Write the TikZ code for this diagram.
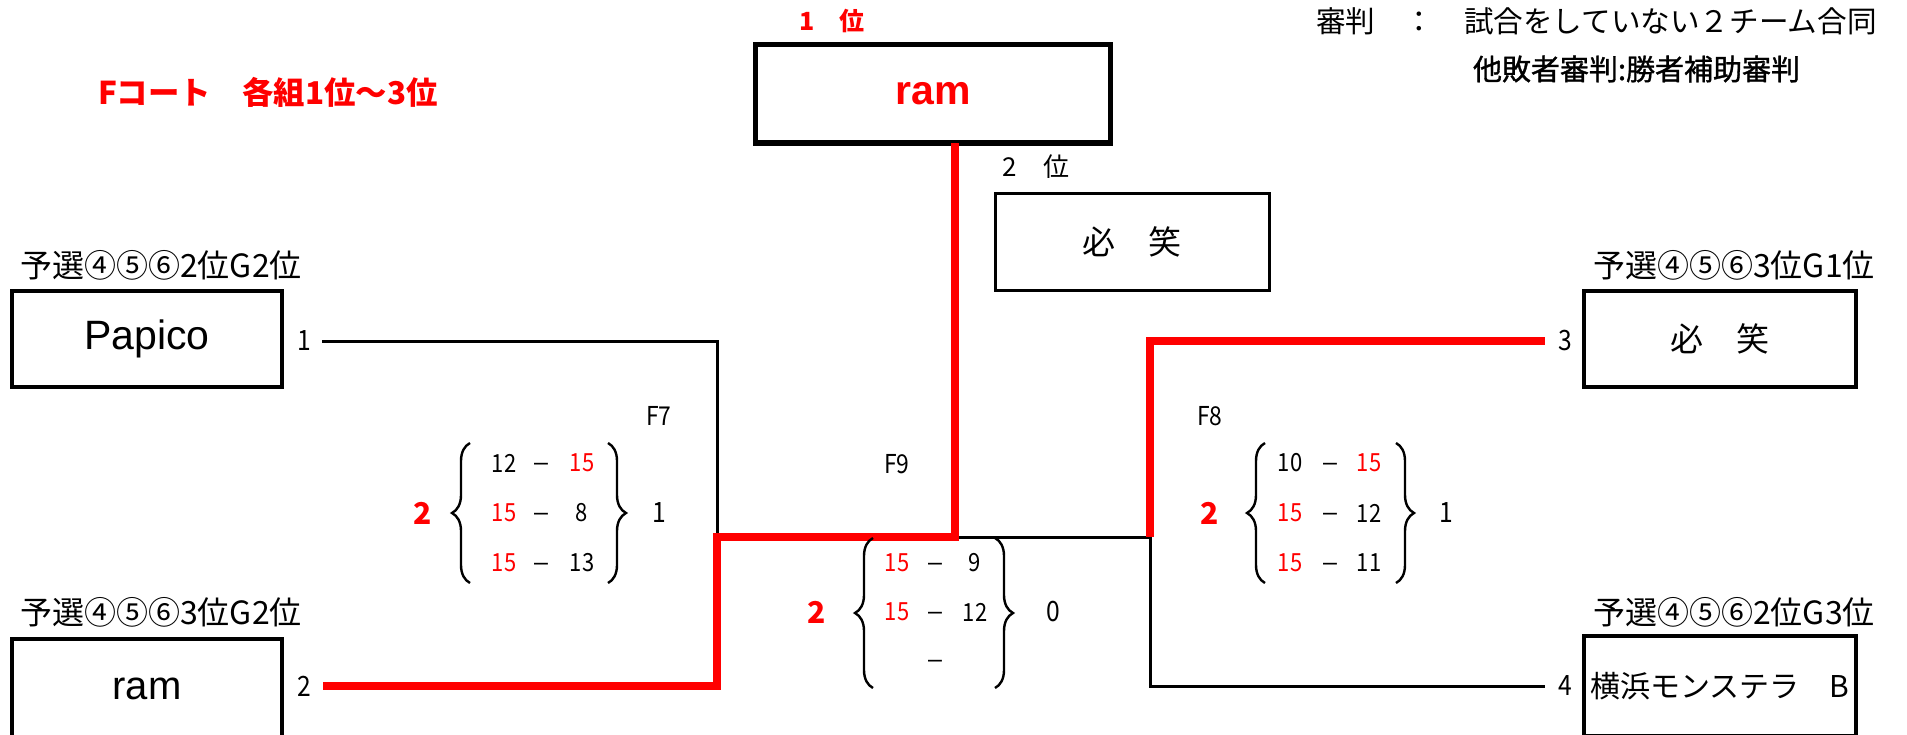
\documentclass[tikz,border=0pt]{standalone}
\usepackage{fontspec}
\setmainfont{Noto Sans CJK JP}
\newfontfamily\latf{Liberation Sans}
\newfontfamily\cond[FakeStretch=0.88]{Noto Sans CJK JP}
\newfontfamily\semib[FakeBold=1.2]{Noto Sans CJK JP}
\usetikzlibrary{decorations.pathreplacing}
\definecolor{rd}{RGB}{255,0,0}
\newcommand\setfs[1]{\fontsize{#1}{#1}\selectfont}
\newcommand\dsh{{\latf –}}
\begin{document}
\begin{tikzpicture}[x=0.5pt,y=-0.5pt,
  every node/.style={inner sep=0pt, outer sep=0pt},
  tbox/.style={draw, line width=1.75pt, minimum width=136pt, minimum height=48pt},
  lbl/.style={font=\setfs{16pt}},
  num/.style={font=\cond\setfs{14pt}},
  fno/.style={font=\cond\setfs{13pt}},
  sc/.style={font=\cond\setfs{12.5pt}},
  scr/.style={font=\cond\setfs{12.5pt}, text=rd},
  dashn/.style={font=\setfs{12.5pt}, yshift=-2pt},
  bigr/.style={font=\setfs{15pt}\bfseries, text=rd},
  blk/.style={line width=1.5pt, line join=miter},
  redl/.style={line width=3.6pt, draw=rd, line join=miter},
  brc/.style={line width=1.2pt, decorate, decoration={brace, amplitude=9pt}},
]
\useasboundingbox (0,0) rectangle (1907,734);

% header texts
\node[font=\setfs{15.7pt}\bfseries, text=rd, anchor=west] (title) at (98,92) {Fコート　各組1位～3位};
\node[font=\setfs{14.8pt}, anchor=west] (ref1) at (1316,21) {審判　：　試合をしていない２チーム合同};
\node[font=\semib\setfs{14.5pt}, anchor=west] (ref2) at (1473,69) {他敗者審判:勝者補助審判};

% winner and second place
\node[font=\setfs{12.5pt}\bfseries, text=rd] (p1) at (832,21) {1　位};
\node[draw, line width=2.9pt, minimum width=177.5pt, minimum height=49.25pt,
      font=\latf\bfseries\setfs{20.5pt}, text=rd] (win) at (933,93.75) {\raisebox{-1.9pt}{ram}};
\node[font=\setfs{13pt}] (p2) at (1036,167) {2　位};
\node[draw, line width=1.5pt, minimum width=137pt, minimum height=48.5pt,
      font=\setfs{16.5pt}] (second) at (1132,241.5) {必　笑};

% team boxes
\node[lbl] (l1) at (161,265) {予選④⑤⑥2位G2位};
\node[tbox, minimum width=135pt, font=\latf\setfs{20.5pt}] (t1) at (147,339) {Papico};
\node[lbl] (l2) at (161,612) {予選④⑤⑥3位G2位};
\node[tbox, minimum width=135pt, minimum height=50pt, font=\latf\setfs{20pt}] (t2) at (147,689) {ram};
\node[lbl] (l3) at (1734,265) {予選④⑤⑥3位G1位};
\node[tbox, font=\setfs{16.5pt}] (t3) at (1720,339) {必　笑};
\node[lbl] (l4) at (1734,612) {予選④⑤⑥2位G3位};
\node[tbox, minimum height=50pt, font=\setfs{15pt}] (t4) at (1720,686) {横浜モンステラ　B};

% seed numbers
\node[num] (n1) at (304,341) {1};
\node[num] (n2) at (304,686) {2};
\node[num] (n3) at (1565,341) {3};
\node[num] (n4) at (1565,686) {4};

% connector points
\coordinate (s1) at (322,341);
\coordinate (s2) at (323,686);
\coordinate (s3) at (1545,341);
\coordinate (s4) at (1545,686);
\coordinate (j7) at (717,537);
\coordinate (jw) at (955,537);
\coordinate (j8) at (1150,537);

% connectors
\draw[blk] (s1) -| (j7);
\draw[blk] (jw) -- (j8);
\draw[blk] (j8) |- (s4);
\draw[redl] (jw |- win.south) -- (jw) -- (j7) |- (s2);
\draw[redl] (j8) |- (s3);

% match labels
\node[fno] (f7) at (659,416) {F7};
\node[fno] (f9) at (897,464) {F9};
\node[fno] (f8) at (1210,416) {F8};

% F7 scores
\node[bigr] (f7w) at (423,513) {2};
\draw[brc] (470,583) -- (470,443);
\node[sc]    (f7a1) at (504,463) {12};
\node[dashn] (f7d1) at (541,463) {\dsh};
\node[scr]   (f7b1) at (582,463) {15};
\node[scr]   (f7a2) at (504,513) {15};
\node[dashn] (f7d2) at (541,513) {\dsh};
\node[sc]    (f7b2) at (582,513) {8};
\node[scr]   (f7a3) at (504,563) {15};
\node[dashn] (f7d3) at (541,563) {\dsh};
\node[sc]    (f7b3) at (582,563) {13};
\draw[brc] (608,443) -- (608,583);
\node[num] (f7l) at (659,513) {1};

% F9 scores
\node[bigr] (f9w) at (817,612) {2};
\draw[brc] (873,688) -- (873,538);
\node[scr]   (f9a1) at (897,563) {15};
\node[dashn] (f9d1) at (935,563) {\dsh};
\node[sc]    (f9b1) at (975,563) {9};
\node[scr]   (f9a2) at (897,612) {15};
\node[dashn] (f9d2) at (935,612) {\dsh};
\node[sc]    (f9b2) at (975,612) {12};
\node[dashn] (f9d3) at (935,660) {\dsh};
\draw[brc] (995,538) -- (995,688);
\node[num] (f9l) at (1053,612) {0};

% F8 scores
\node[bigr] (f8w) at (1210,513) {2};
\draw[brc] (1265,583) -- (1265,443);
\node[sc]    (f8a1) at (1290,463) {10};
\node[dashn] (f8d1) at (1330,463) {\dsh};
\node[scr]   (f8b1) at (1369,463) {15};
\node[scr]   (f8a2) at (1290,513) {15};
\node[dashn] (f8d2) at (1330,513) {\dsh};
\node[sc]    (f8b2) at (1369,513) {12};
\node[scr]   (f8a3) at (1290,563) {15};
\node[dashn] (f8d3) at (1330,563) {\dsh};
\node[sc]    (f8b3) at (1369,563) {11};
\draw[brc] (1396,443) -- (1396,583);
\node[num] (f8l) at (1446,513) {1};
\end{tikzpicture}
\end{document}
